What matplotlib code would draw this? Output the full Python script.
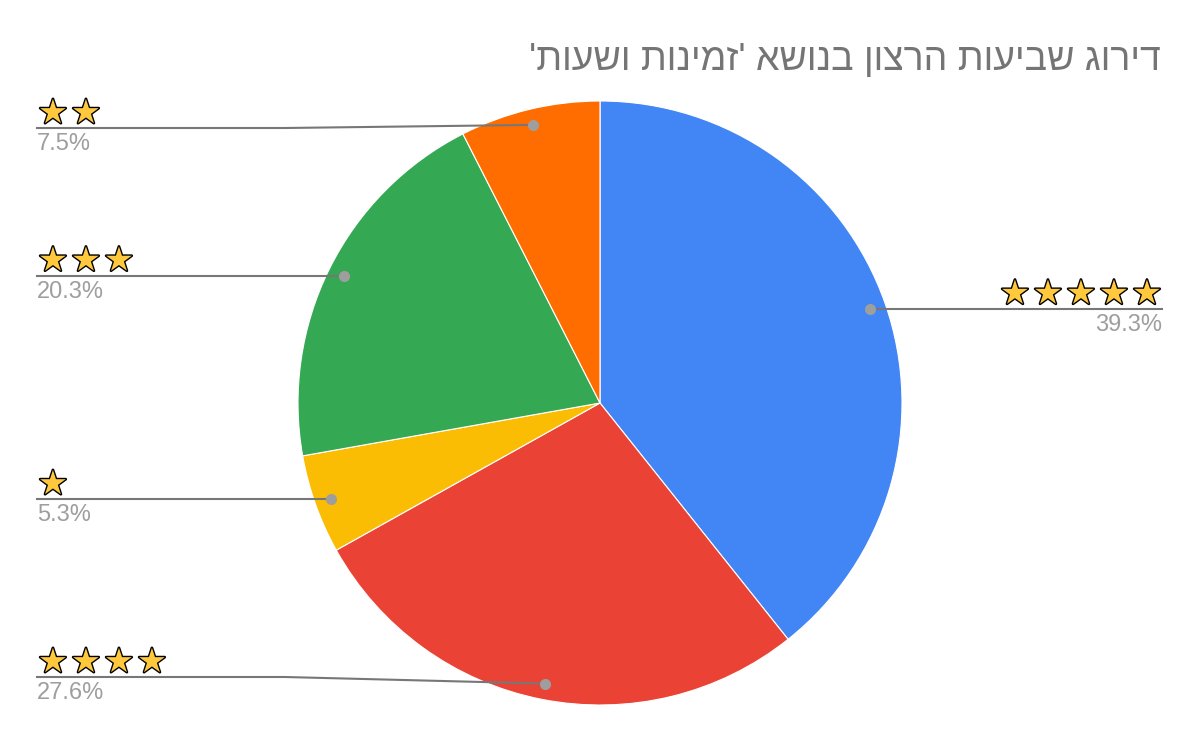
import numpy as np
import matplotlib
matplotlib.use('Agg')
import matplotlib.pyplot as plt
import matplotlib.patheffects as pe

# data
title = "דירוג שביעות הרצון בנושא 'זמינות ושעות'"
stars = [5, 4, 1, 3, 2]
shares = [39.3, 27.6, 5.3, 20.3, 7.5]
colors = ['#4285F4', '#EA4335', '#FBBC04', '#34A853', '#FF6D01']

W, H = 1200, 742
fig = plt.figure(figsize=(W / 100, H / 100), dpi=100)
ax = fig.add_axes([0, 0, 1, 1])

cx, cy, r = 600, H - 403, 302
ax.pie(shares, colors=colors, startangle=90, counterclock=False,
       center=(cx, cy), radius=r, frame=True,
       wedgeprops=dict(edgecolor='white', linewidth=0.8))
ax.set_xlim(0, W)
ax.set_ylim(0, H)
ax.set_aspect('equal')
ax.axis('off')

# matplotlib has no bidi, so flip the hebrew for display
ax.text(1161, H - 70, title[::-1], ha='right', va='baseline',
        fontsize=27, color='#757575', family=['Liberation Sans', 'DejaVu Sans'])

line_c = '#777777'
dot_c = '#9e9e9e'
star_kw = dict(fontsize=24, color='#FFC83D', family='DejaVu Sans',
               va='baseline', ha='left',
               path_effects=[pe.Stroke(linewidth=2, foreground='black'), pe.Normal()])
pct_kw = dict(fontsize=17, color='#9e9e9e', family='Liberation Sans', va='top')

cum = 0
for n, s, c in zip(stars, shares, colors):
    mid = 90 - (cum + s / 2) / 100 * 360
    cum += s
    a = np.radians(mid)
    dx = cx + 0.947 * r * np.cos(a)
    dy = cy + 0.947 * r * np.sin(a)
    if np.cos(a) >= 0:
        ly = dy
        ax.plot([dx, 1162], [ly, ly], color=line_c, lw=1.5, zorder=3)
        x0 = 1160 - n * 33 + 5
        pct_x, pct_ha = 1162, 'right'
    else:
        ly = np.clip(dy, H - 677, H - 128)
        ax.plot([dx, 285, 37], [dy, ly, ly], color=line_c, lw=1.5, zorder=3)
        x0 = 38
        pct_x, pct_ha = 37, 'left'
    ax.plot(dx, dy, 'o', ms=8, color=dot_c, mec='none', zorder=4)
    for i in range(n):
        ax.text(x0 + i * 33, ly + 5, '★', **star_kw)
    ax.text(pct_x, ly - 5, f'{s}%', ha=pct_ha, **pct_kw)

fig.savefig('out.png', dpi=100, facecolor='white')
